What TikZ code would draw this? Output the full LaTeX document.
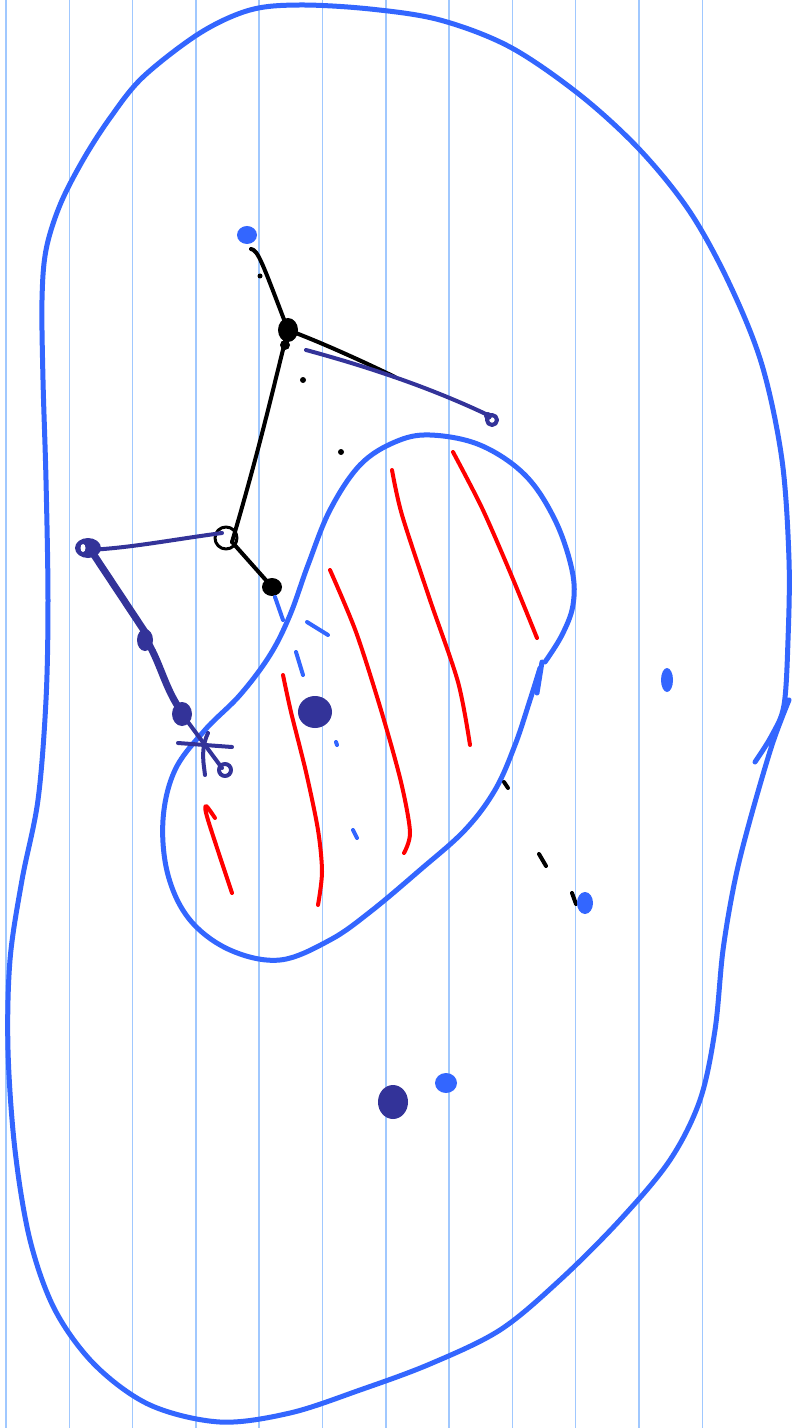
\documentclass[tikz,border=0pt]{standalone}
\usetikzlibrary{calc}

\definecolor{ruleblue}{RGB}{160,200,255}
\definecolor{penblue}{RGB}{51,102,255}
\definecolor{inkblue}{RGB}{51,51,153}
\definecolor{penred}{RGB}{255,0,0}

\begin{document}
\begin{tikzpicture}[
  x=0.5pt,y=-0.5pt,
  line cap=round,line join=round,
  rule/.style={ruleblue,line width=0.75pt},
  outline/.style={penblue,line width=2.5pt},
  hatch/.style={penred,line width=2pt},
  bone/.style={black,line width=2pt},
  limb/.style={inkblue,line width=2pt},
  dab/.style={penblue,line width=2pt}
]
  \useasboundingbox[fill=white] (0,0) rectangle (795,1428);

  % ruled paper
  \foreach \k in {0,...,11}
    \draw[rule] ({6+63.3*\k},0) -- ({6+63.3*\k},1428);

  % outer region
  \draw[outline] plot[smooth,tension=0.55] coordinates {
    (755,762) (772,735) (784,705) (788,640) (789,560) (782,460) (762,365)
    (730,285) (690,212) (640,150) (580,95) (510,47) (440,20) (370,9)
    (300,5) (250,10) (200,33) (143,77) (110,118) (83,160) (60,205)
    (46,250) (42,300) (43,380) (46,480) (48,600) (46,700) (38,800)
    (22,880) (10,960) (8,1050) (15,1150) (30,1240) (55,1310) (95,1365)
    (150,1405) (220,1422) (290,1413) (360,1390) (430,1364) (500,1330)
    (560,1280) (620,1220) (670,1160) (700,1100) (715,1030) (723,950)
    (735,880) (750,820) (772,745) (789,700)};

  % inner region
  \draw[outline] plot[smooth,tension=0.6] coordinates {
    (540,668) (530,700) (515,745) (495,790) (465,830) (420,870) (370,912)
    (330,940) (280,960) (230,950) (190,920) (168,875) (163,820) (175,770)
    (205,730) (240,695) (270,655) (290,615) (308,565) (330,510) (360,465)
    (395,442) (430,435) (480,445) (525,475) (555,520) (572,570) (573,605)
    (562,635) (545,662)};
  \draw[outline] (542,662) -- (537,693);

  % red hatching
  \draw[hatch] plot[smooth] coordinates {(392,470) (402,515) (430,600) (458,682) (470,745)};
  \draw[hatch] plot[smooth] coordinates {(453,452) (482,508) (510,572) (537,638)};
  \draw[hatch] plot[smooth] coordinates {(330,570) (356,632) (381,710) (401,782) (410,832) (404,853)};
  \draw[hatch] plot[smooth] coordinates {(283,675) (291,712) (306,772) (318,830) (322,872) (318,905)};
  \draw[hatch] plot[smooth] coordinates {(215,818) (206,806) (208,820) (232,893)};

  % black skeleton
  \coordinate (head) at (288,330);
  \coordinate (knee) at (232,542);
  \coordinate (foot) at (272,587);
  \draw[bone] (251,249) .. controls (258,250) and (262,262) .. (head);
  \draw[bone] (head) .. controls (275,380) and (262,440) .. (knee);
  \draw[bone] (knee) -- (foot);
  \draw[bone] (head) .. controls (320,342) and (360,360) .. (395,377);
  \draw[black,line width=1.5pt] (226,538) circle (11);
  \fill (head) ellipse (10 and 12);
  \fill (285,345) circle (5);
  \fill (foot) ellipse (10 and 9);
  \fill (260,276) circle (2.5);
  \fill (303,380) circle (3);
  \fill (341,452) circle (3);
  \draw[bone] (504,782) -- (508,788);
  \draw[bone] (539,854) -- (546,866);
  \draw[bone] (572,893) -- (576,904);

  % dark blue limbs
  \draw[limb] (306,350) .. controls (380,370) and (440,392) .. (490,416);
  \draw[limb] (492,420) circle (5);
  \fill[inkblue] (488,416) circle (4);
  \draw[limb] (222,533) .. controls (170,540) and (130,548) .. (88,550);
  \fill[inkblue] (88,548) ellipse (13 and 10);
  \fill[white] (83,548) ellipse (2.5 and 4);
  \draw[inkblue,line width=3.5pt] (92,552) -- (145,632);
  \fill[inkblue] (145,640) ellipse (8 and 11);
  \draw[inkblue,line width=3.5pt] (145,638) .. controls (160,660) and (165,690) .. (182,712);
  \fill[inkblue] (182,714) ellipse (10 and 12);
  \draw[limb] (182,714) -- (222,768);
  \draw[limb] (225,770) circle (6);
  \draw[limb] (178,743) -- (232,747);
  \draw[limb] (208,733) .. controls (200,750) and (204,765) .. (205,775);
  \fill[inkblue] (315,712) ellipse (17 and 16);
  \fill[inkblue] (393,1102) ellipse (15 and 17);

  % blue marks
  \fill[penblue] (247,235) ellipse (10 and 9);
  \fill[penblue] (667,680) ellipse (6 and 12);
  \fill[penblue] (585,903) ellipse (8 and 11);
  \fill[penblue] (446,1083) ellipse (11 and 10);
  \draw[dab] (275,597) -- (283,620);
  \draw[dab] (307,622) -- (328,635);
  \draw[dab] (296,652) -- (303,675);
  \draw[dab] (336,742) -- (337,745);
  \draw[dab] (353,830) -- (357,838);
\end{tikzpicture}
\end{document}
